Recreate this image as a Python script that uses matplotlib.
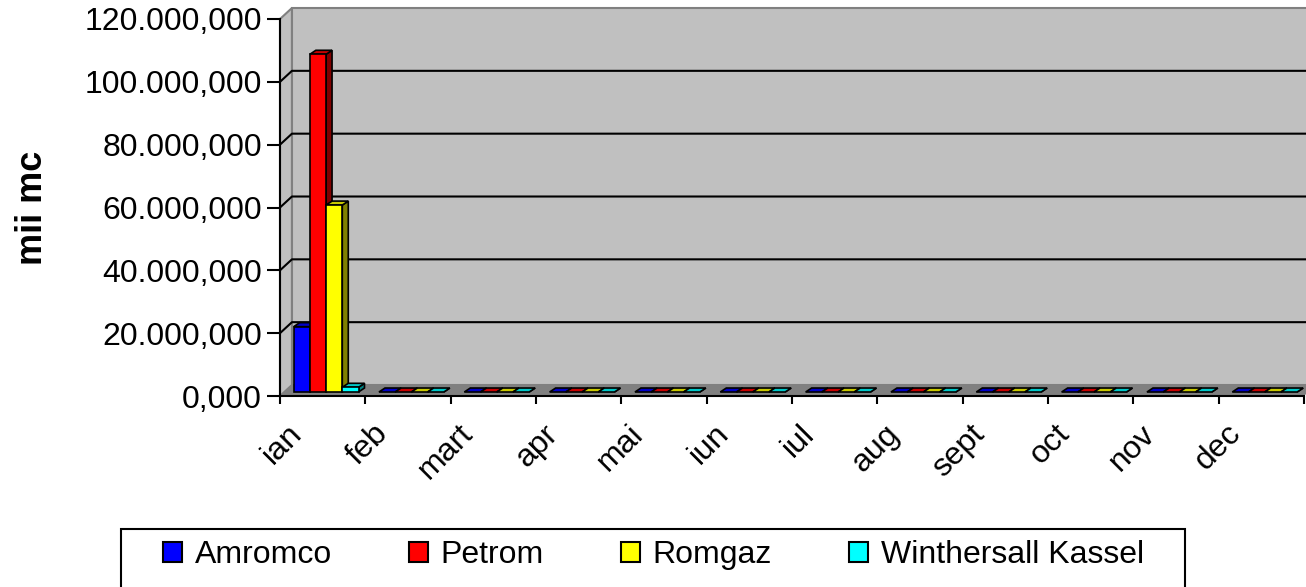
import matplotlib
matplotlib.use("Agg")
import matplotlib.pyplot as plt
from matplotlib.patches import Polygon, Rectangle, Patch
from matplotlib.transforms import ScaledTranslation

plt.rcParams['font.family'] = ['Liberation Sans', 'DejaVu Sans']

# data (mii mc)
months = ['ian', 'feb', 'mart', 'apr', 'mai', 'iun', 'iul', 'aug', 'sept', 'oct', 'nov', 'dec']
companies = ['Amromco', 'Petrom', 'Romgaz', 'Winthersall Kassel']
amromco = [20800, 0, 0, 0, 0, 0, 0, 0, 0, 0, 0, 0]
petrom = [107500, 0, 0, 0, 0, 0, 0, 0, 0, 0, 0, 0]
romgaz = [59500, 0, 0, 0, 0, 0, 0, 0, 0, 0, 0, 0]
winthersall = [1500, 0, 0, 0, 0, 0, 0, 0, 0, 0, 0, 0]
y_ticks = [0, 20000, 40000, 60000, 80000, 100000, 120000]

series = [amromco, petrom, romgaz, winthersall]
face_colors = ['#0000ff', '#ff0000', '#ffff00', '#00ffff']
top_colors = ['#0000c8', '#c80000', '#c8c800', '#00c8c8']
side_colors = ['#000080', '#800000', '#808000', '#008080']

# 3d look (category units / value units)
DX, DY = 0.14, 3500        # depth of the wall
BY = 1270                  # bars sit a bit back on the floor
BDX, BDY = 0.07, 1270      # depth of a bar
OFF, W = 0.16, 0.19

def ro_fmt(v):
    s = f"{v:,.3f}"
    return s.replace(',', 'X').replace('.', ',').replace('X', '.')

fig = plt.figure(figsize=(13.06, 5.87), dpi=100)
ax = fig.add_axes([280/1306, 191/587, 1024/1306, 377/587])
ax.set_xlim(0, 12)
ax.set_ylim(0, 120000)
ax.set_facecolor('none')

top = y_ticks[-1]
wall = '#c0c0c0'
edge = '#808080'
ax.add_patch(Polygon([(0, 0), (DX, DY), (DX, top + DY), (0, top)], closed=True,
                     fc=wall, ec=edge, lw=1.5, clip_on=False, zorder=0.5))
ax.add_patch(Rectangle((DX, DY), 12, top, fc=wall, ec=edge, lw=1.5, clip_on=False, zorder=0.5))
ax.add_patch(Polygon([(0, 0), (12, 0), (12 + DX, DY), (DX, DY)], closed=True,
                     fc='#808080', ec='none', clip_on=False, zorder=0.6))

for y in y_ticks[1:-1]:
    ax.plot([0, DX, 12 + DX], [y, y + DY, y + DY], color='black', lw=1.5,
            clip_on=False, zorder=1)

z = 3
for i in range(len(months)):
    for k, vals in enumerate(series):
        v = vals[i]
        x0 = i + OFF + k * W
        x1 = x0 + W
        y0, y1 = BY, BY + v
        ax.fill([x1, x1 + BDX, x1 + BDX, x1], [y0, y0 + BDY, y1 + BDY, y1],
                fc=side_colors[k], ec='black', lw=1.2, clip_on=False, zorder=z)
        ax.fill([x0, x1, x1 + BDX, x0 + BDX], [y1, y1, y1 + BDY, y1 + BDY],
                fc=top_colors[k], ec='black', lw=1.2, clip_on=False, zorder=z)
        if v > 0:
            ax.bar(x0, v, width=W, bottom=y0, align='edge', color=face_colors[k],
                   edgecolor='black', lw=1.2, clip_on=False, zorder=z)
        z += 0.01

for s in ['top', 'right']:
    ax.spines[s].set_visible(False)
for s in ['left', 'bottom']:
    ax.spines[s].set_linewidth(1.5)
    ax.spines[s].set_color('black')

ax.set_yticks(y_ticks, [ro_fmt(v) for v in y_ticks])
ax.tick_params(axis='y', length=9.4, width=1.5, pad=3.6, labelsize=23, direction='out')

ax.set_xticks(range(13))
ax.set_xticklabels([])
ax.tick_params(axis='x', which='major', length=6, width=1.5, direction='out')
ax.set_xticks([i + 0.5 for i in range(12)], minor=True)
ax.set_xticklabels(months, minor=True, rotation=45, ha='right',
                   rotation_mode='anchor', fontsize=23)
ax.tick_params(axis='x', which='minor', length=0, pad=24)
shift = ScaledTranslation(-25/100, 0, fig.dpi_scale_trans)
for lab in ax.get_xticklabels(minor=True):
    lab.set_va('center')
    lab.set_transform(lab.get_transform() + shift)

ax.set_ylabel('mii mc', fontsize=26, fontweight='bold')
ax.yaxis.set_label_coords(-(280 - 50)/1024, 0.5)

# legend
fig.add_artist(Rectangle((121/1306, -5/587), (1185 - 121)/1306, (587 - 529 + 5)/587,
                         transform=fig.transFigure, fill=False, ec='black', lw=1.5))
handles = [Patch(facecolor=c, edgecolor='black', linewidth=1.5) for c in face_colors]
fig.legend(handles, companies, loc='center left', bbox_to_anchor=(163/1306, 32/587),
           ncol=4, frameon=False, borderpad=0, borderaxespad=0, fontsize=23,
           handlelength=0.6, handleheight=0.6, handletextpad=0.4, columnspacing=2.4)

fig.savefig('out.png', dpi=100)
